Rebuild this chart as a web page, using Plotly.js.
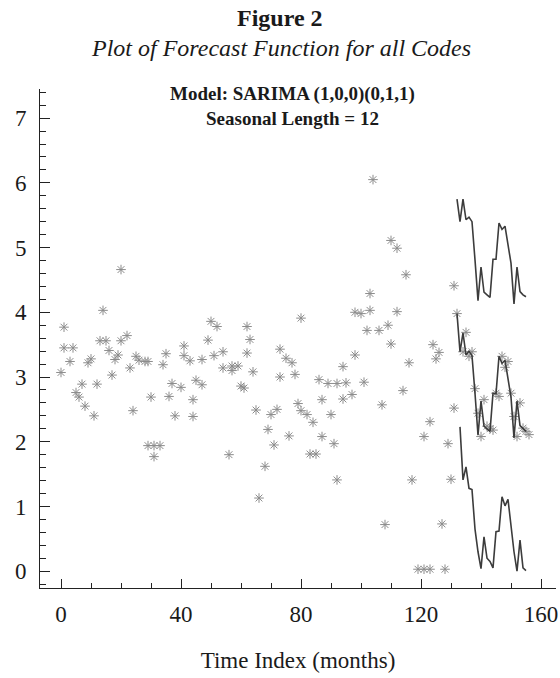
<!DOCTYPE html>
<html>
<head>
<meta charset="utf-8">
<script src="https://cdn.plot.ly/plotly-3.0.1.min.js"></script>
<style>html,body{margin:0;padding:0;background:#fff;}#chart{width:560px;height:678px;}</style>
</head>
<body>
<div id="chart"></div>
<script>
// Observed series (all codes overlaid), month index and value
const obsMonths = [0,1,1,3,4,5,6,7,8,9,10,11,12,13,14,15,16,17,18,19,20,20,22,23,24,25,26,28,29,30,29,31,33,31,34,35,36,37,38,40,41,41,43,44,44,45,47,47,49,50,51,52,54,54,56,57,57,59,60,61,62,62,63,64,65,66,68,69,70,71,72,73,73,75,76,77,78,79,80,80,82,83,84,85,86,87,87,89,90,91,92,92,94,94,95,97,98,98,100,101,102,103,103,104,106,107,108,109,110,110,112,112,114,115,116,117,119,121,123,121,123,124,125,126,127,128,129,130,131,131];
const obsValues = [3.07,3.77,3.45,3.24,3.45,2.76,2.69,2.89,2.55,3.22,3.28,2.40,2.89,3.56,4.03,3.56,3.41,3.03,3.27,3.34,3.56,4.66,3.64,3.14,2.48,3.32,3.26,3.24,3.24,2.69,1.94,1.94,1.94,1.77,3.19,3.36,2.70,2.90,2.40,2.84,3.48,3.33,3.25,2.65,2.39,2.95,2.88,3.27,3.57,3.86,3.33,3.78,3.39,3.14,1.80,3.10,3.17,3.17,2.86,2.83,3.37,3.78,3.58,3.08,2.49,1.13,1.62,2.19,2.42,1.95,2.50,3.00,3.43,3.29,2.09,3.22,3.04,2.59,2.48,3.91,2.42,1.81,2.30,1.81,2.96,2.65,2.08,2.90,2.42,1.97,1.41,2.90,3.16,2.66,2.91,2.73,3.34,4.00,3.98,2.92,3.72,4.03,4.29,6.05,3.72,2.57,0.72,3.80,3.51,5.11,4.99,4.01,2.79,4.58,3.22,1.41,0.03,0.03,0.03,2.08,2.31,3.50,3.28,3.38,0.73,0.03,1.97,1.42,2.52,4.41];

// Hold-out observations plotted over the forecast period
const holdMonths = [132,134,135,136,137,138,139,140,141,142,143,144,145,146,147,148,149,150,151,152,153,154,155,156];
const holdValues = [3.98,3.39,3.69,3.32,3.39,2.82,2.44,2.08,2.65,2.24,2.20,2.18,2.75,2.70,3.32,3.15,3.24,2.75,2.39,2.08,2.60,2.21,2.16,2.11];

// Forecast functions
const fcMonths = [132,133,134,135,136,137,138,139,140,141,142,143,144,145,146,147,148,149,150,151,152,153,154,155];
const fcUpper  = [5.75,5.40,5.75,5.43,5.47,5.40,4.81,4.18,4.70,4.31,4.27,4.23,4.82,4.82,5.38,5.28,5.33,5.07,4.76,4.13,4.70,4.32,4.27,4.24];
const fcMiddle = [3.98,3.39,3.68,3.34,3.40,3.33,2.75,2.10,2.63,2.24,2.20,2.16,2.75,2.74,3.32,3.21,3.26,3.00,2.69,2.06,2.63,2.25,2.20,2.16];
const fcLowMonths = [133,134,135,136,137,138,139,140,141,142,143,144,145,146,147,148,149,150,151,152,153,154,155];
const fcLower  = [2.23,1.41,1.61,1.28,1.26,0.65,0.30,0.04,0.53,0.20,0.15,0.05,0.61,0.62,1.15,1.01,1.11,0.70,0.30,0.00,0.48,0.05,0.01];

const serif = 'Liberation Serif, Times New Roman, serif';
const markerStyle = {symbol:'asterisk-open', size:8, color:'#8c8c8c', line:{color:'#8c8c8c', width:1}};
const lineStyle = {color:'#3c3c3c', width:1.6};

const traces = [
  {x:obsMonths, y:obsValues, type:'scatter', mode:'markers', marker:markerStyle},
  {x:holdMonths, y:holdValues, type:'scatter', mode:'markers', marker:markerStyle},
  {x:fcMonths, y:fcUpper, type:'scatter', mode:'lines', line:lineStyle},
  {x:fcMonths, y:fcMiddle, type:'scatter', mode:'lines', line:lineStyle},
  {x:fcLowMonths, y:fcLower, type:'scatter', mode:'lines', line:lineStyle}
];

const layout = {
  width:560, height:678,
  margin:{l:40, r:4, t:89, b:90},
  paper_bgcolor:'#fff', plot_bgcolor:'#fff',
  showlegend:false,
  font:{family:serif, color:'#1a1a1a', size:22},
  xaxis:{
    range:[-7,165], showgrid:false, zeroline:false,
    showline:true, linecolor:'#222', linewidth:1,
    ticks:'inside', ticklen:9, tickcolor:'#222', tick0:0, dtick:40,
    minor:{dtick:10, ticks:'inside', ticklen:5, tickcolor:'#222'},
    tickfont:{family:serif, size:23, color:'#1a1a1a'},
    ticklabelstandoff:5,
    title:{text:'Time Index (months)', font:{family:serif, size:23, color:'#1a1a1a'}, standoff:26}
  },
  yaxis:{
    range:[-0.26,7.45], showgrid:false, zeroline:false,
    showline:true, linecolor:'#222', linewidth:1,
    ticks:'inside', ticklen:10, tickcolor:'#222', tick0:0, dtick:1,
    minor:{dtick:0.2, ticks:'inside', ticklen:6, tickcolor:'#222'},
    tickfont:{family:serif, size:23, color:'#1a1a1a'},
    ticklabelstandoff:8
  },
  annotations:[
    {text:'<b>Figure 2</b>', xref:'paper', yref:'paper', x:0.465, y:1.142, xanchor:'center', yanchor:'middle', showarrow:false, font:{family:serif, size:24, color:'#1a1a1a'}},
    {text:'<i>Plot of Forecast Function for all Codes</i>', xref:'paper', yref:'paper', x:0.467, y:1.082, xanchor:'center', yanchor:'middle', showarrow:false, font:{family:serif, size:24, color:'#1a1a1a'}},
    {text:'<b>Model: SARIMA (1,0,0)(0,1,1)</b>', xref:'paper', yref:'paper', x:0.49, y:0.989, xanchor:'center', yanchor:'middle', showarrow:false, font:{family:serif, size:19, color:'#1a1a1a'}},
    {text:'<b>Seasonal Length = 12</b>', xref:'paper', yref:'paper', x:0.49, y:0.940, xanchor:'center', yanchor:'middle', showarrow:false, font:{family:serif, size:19, color:'#1a1a1a'}}
  ]
};

Plotly.newPlot('chart', traces, layout, {displayModeBar:false, staticPlot:true});
</script>
</body>
</html>
